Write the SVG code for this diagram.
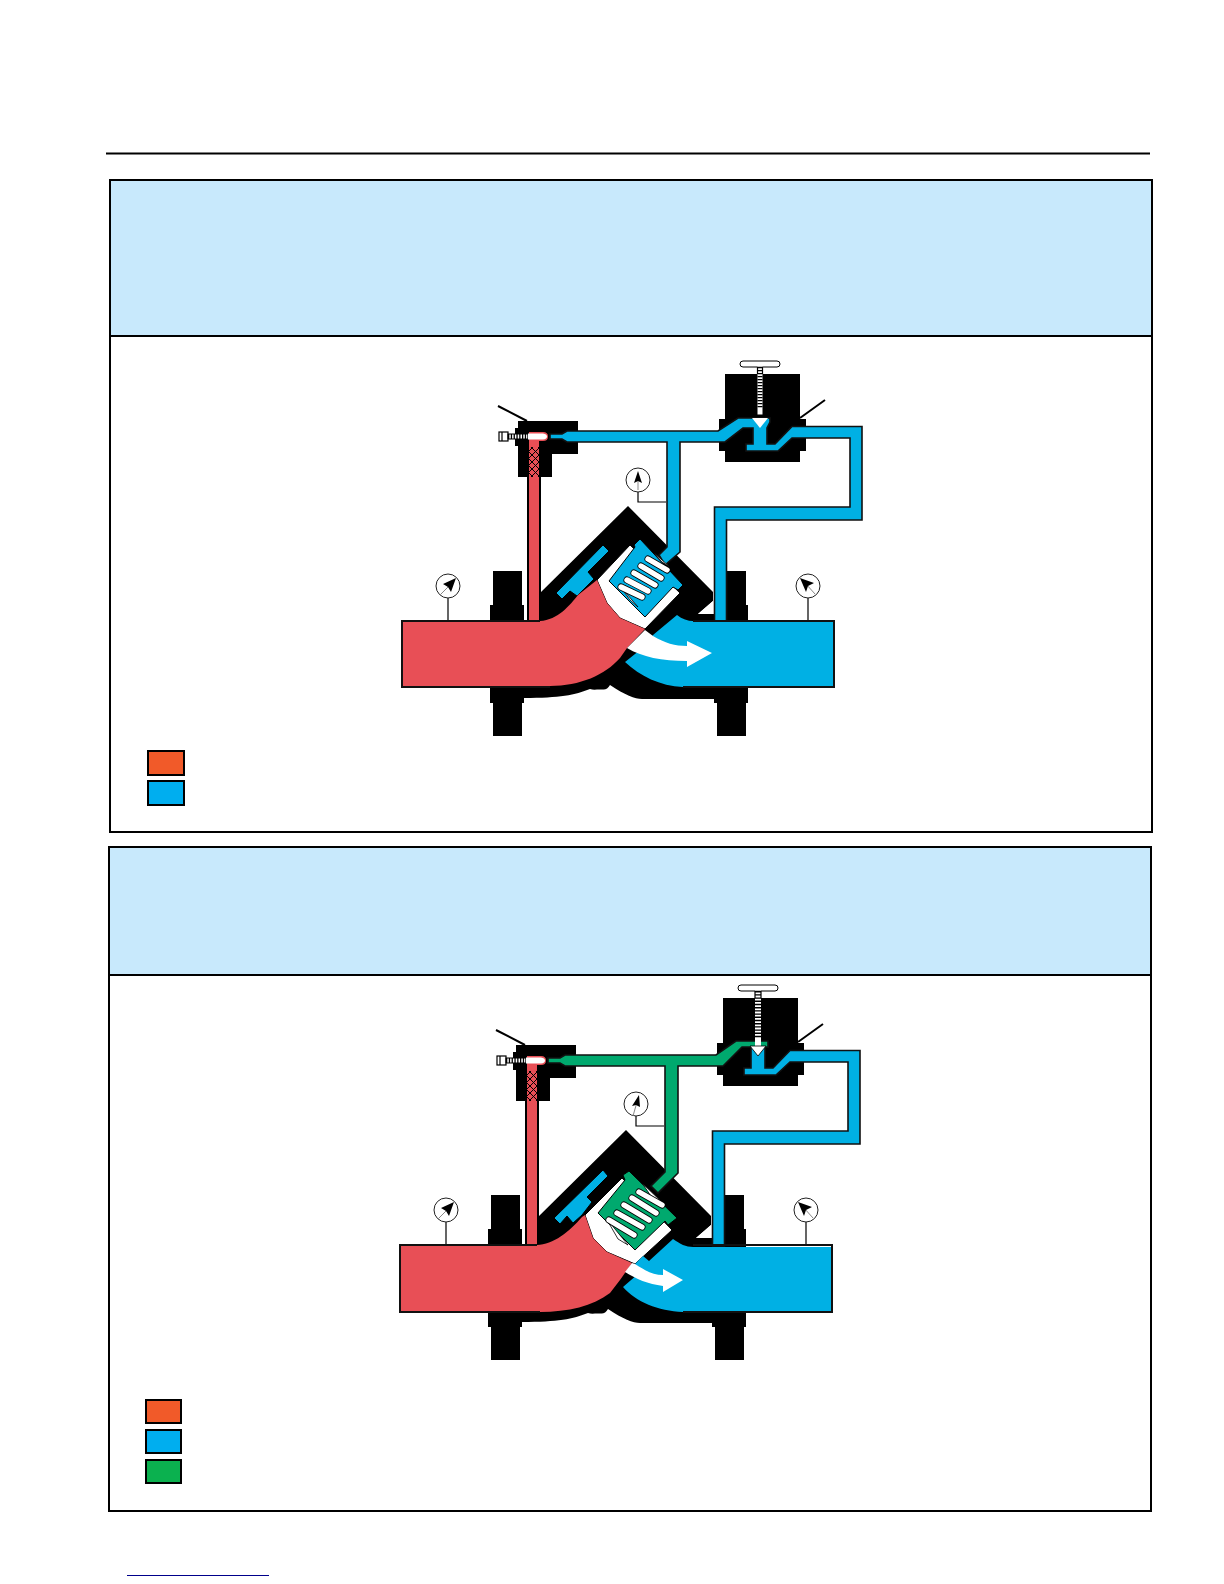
<svg xmlns="http://www.w3.org/2000/svg" width="1224" height="1584" viewBox="0 0 1224 1584">
<style>
.panel{fill:#fff;stroke:#000;stroke-width:2}
.head{fill:#c8e9fc;stroke:#000;stroke-width:2}
.k{fill:#000}
.hair{fill:none;stroke:#000;stroke-width:1.2}
.lead{fill:none;stroke:#000;stroke-width:2}
.dial{fill:#fff;stroke:#222;stroke-width:1}
.needle{fill:none;stroke:#888;stroke-width:1}
.blue{fill:#00b0e4}
.red{fill:#e84f56}
.pipe-b{fill:#00b0e4;stroke:#111;stroke-width:1.6;stroke-linejoin:miter}
.pipe-g{fill:#00a96e;stroke:#111;stroke-width:1.6;stroke-linejoin:miter}
.fill-g{fill:#00a96e;stroke:#000;stroke-width:1}
.fill-b{fill:#00b0e4;stroke:#000;stroke-width:1}
.cav{fill:#fff;stroke:#000;stroke-width:1}
.w{fill:#fff}
.slot-o{fill:none;stroke:#000;stroke-width:7;stroke-linecap:round}
.slot{fill:none;stroke:#fff;stroke-width:5.4;stroke-linecap:round}
.wedge{fill:#fff;stroke:#000;stroke-width:.8}
.body-out{fill:none;stroke:#111;stroke-width:2}
.swatch{stroke:#000;stroke-width:2}
</style>
<defs>
<pattern id="hatch" width="7" height="7" patternUnits="userSpaceOnUse">
<path d="M0,0L7,7M7,0L0,7" stroke="#000" stroke-width="1" fill="none"/>
</pattern>
<g id="base-back">
<path class="k" d="M628,506L713,592V601L698,614H714V621H748V605H746V571H717V605H714V621L714,699H748V703H746V736H717V703H714V699H642C635,699 625,695 610,685Q607,690 603,689.500H597Q593,690 590,689C575,695 560,698 524,698V703H522V736H493V703H490V605H493V571H522V605H524V621H540V593Z"/>
<path class="k" d="M490,605H524V703H490ZM714,605H748V703H714Z"/>
<path class="k" d="M518,421H578V454H552V477H518V446H515V428H518Z"/>
<rect class="k" x="527" y="470" width="14" height="152"/>
<rect class="k" x="725" y="374" width="75" height="88"/>
<rect class="k" x="719" y="419" width="87" height="32"/>
<path class="w" d="M713,601L713,614H698Z"/>
<path class="lead" d="M498,406L527,421M800,418L825,400"/>
<rect class="w" x="740" y="361" width="40" height="6" rx="3" stroke="#000" stroke-width="1"/>
<path class="hair" d="M448,598V621M808,598V621M638,492V502H666"/>
</g>
<g id="red-line">
<path class="red" d="M529,622V432H543Q548,432 548,436.500Q548,441 543,441H539V622Z"/>
<rect x="529" y="447" width="10" height="30" fill="url(#hatch)"/>
</g>
<g id="base-front">
<rect x="499" y="432" width="9" height="9" fill="#fff" stroke="#000" stroke-width="1.200"/>
<path class="hair" d="M502,432V441"/>
<rect x="508" y="434" width="20" height="5" fill="#fff" stroke="#000" stroke-width="1"/>
<path d="M508,436.500H528" stroke="#000" stroke-width="5" stroke-dasharray="1.300 1.500" fill="none"/>
<path class="w" d="M528,433.500H543Q547,434 547,436.500Q547,439 543,439.500H528Z"/>
<circle class="dial" cx="448" cy="586" r="12"/>
<path class="needle" d="M440,595L450,585"/>
<path class="k" d="M456,578L451,592L448,587L443,584Z"/>
<circle class="dial" cx="808" cy="586" r="12"/>
<path class="needle" d="M815,594L806,584"/>
<path class="k" d="M800,578L814,583L808,586L806,592Z"/>
<circle class="dial" cx="638" cy="480" r="12"/>
</g>
</defs>

<rect width="1224" height="1584" fill="#fff"/>
<path d="M106,153.500H1150" stroke="#000" stroke-width="2"/>
<path d="M127,1575.500H269" stroke="#00008b" stroke-width="1"/>

<g id="panel-top">
<rect class="panel" x="110" y="180" width="1042" height="652"/>
<rect class="head" x="110" y="180" width="1042" height="156"/>
<rect class="swatch" x="148" y="751" width="36" height="24" fill="#f15a29"/>
<rect class="swatch" x="148" y="781" width="36" height="24" fill="#00aeef"/>
</g>

<g id="valve-top">
<use href="#base-back"/>
<g id="pilot-line-top">
<path class="pipe-b" d="M550,434L562,434L567,431L718,431L738,418L770,418L770,422L767,428V444H775L792,426.500H862V520H726.500V622H714.500V507H850V438H792L778,451H746V444H753V428H743L725,442H680V552L665,565L659,555L667,547V442H567L562,439H550Z"/>
</g>
<path class="w" d="M757.500,366.500h5v48h-5z"/>
<path d="M760,367V408" stroke="#000" stroke-width="5" stroke-dasharray="1.200 1.800" fill="none"/>
<path class="hair" d="M757.500,367V374M762.500,367V374"/>
<path class="w" d="M752,418H768L760,428Z"/>
<use href="#red-line"/>
<g id="piston-top">
<path class="fill-b" d="M603,545L609,551L588,572L594,579L577,596L570,591L562,599L556,593Z"/>
<path class="cav" d="M597,580L630,545L680,593L645,629L620,618L607,603Z"/>
<path class="fill-b" d="M609,581L635,547L634,545L640,539L683,585L678,590L673,587L645,617Z"/>
<path class="wedge" d="M653,552L670,567L662,562Z"/>
<path class="wedge" d="M620,586L638,607L630,600Z"/>
<path class="slot-o" d="M648,559L667,570M641,566L661,578M634,573L655,585M627,580L648,591M621,587L642,597"/>
<path class="slot" d="M648,559L667,570M641,566L661,578M634,573L655,585M627,580L648,591M621,587L642,597"/>
</g>
<g id="fluid-top">
<path class="red" d="M402,621H540C558,620 570,605 578,595L597,580L607,603L620,618L645,629L627,648L620,658C605,675 580,686 550,686H402Z"/>
<path class="blue" d="M653,635L677,615C682,619 688,621 693,621H834V687H683C660,686 640,676 625,662L640,650Z"/>
<path class="w" d="M645,630L653,636C665,643 675,646 687,646V641L712,653L687,667V661C662,661 642,657 627,648Z"/>
<path class="body-out" d="M540,621H402V687H550M693,621H834V687H683"/>
</g>
<use href="#base-front"/>
<path class="needle" d="M638,490V480"/>
<path class="k" d="M638,471L642,483L638,481L634,483Z"/>
</g>

<g id="panel-bottom">
<rect class="panel" x="109" y="847" width="1042" height="664"/>
<rect class="head" x="109" y="847" width="1042" height="128"/>
<rect class="swatch" x="146" y="1400" width="35" height="23" fill="#f15a29"/>
<rect class="swatch" x="146" y="1430" width="35" height="23" fill="#00aeef"/>
<rect class="swatch" x="146" y="1460" width="35" height="23" fill="#0bb14f"/>
</g>

<g id="valve-bottom" transform="translate(-2,624)">
<use href="#base-back"/>
<g id="pilot-line-bottom">
<path class="pipe-b" d="M753,422H767V444H775L792,426.500H862V520H726.500V622H714.500V507H850V438H792L778,451H746V444H753Z"/>
<path class="pipe-g" d="M550,434L562,434L567,431L718,431L738,417L770,417V423H744L725,442H680V549L660,569L653,562L667,548V442H567L562,439H550Z"/>
</g>
<path class="w" d="M757,366.500h6v60h-6z"/>
<path d="M760,367V415" stroke="#000" stroke-width="6" stroke-dasharray="1.400 1.800" fill="none"/>
<path class="hair" d="M757,367V374M763,367V374"/>
<path class="w" stroke="#000" stroke-width=".8" d="M752,422H768L760,432Z"/>
<use href="#red-line"/>
<g id="piston-bottom">
<path class="fill-b" d="M605,546L610,552L589,573L594,578L584,591L575,599L569,592L562,600L556,594Z"/>
<path class="cav" d="M587,591L624,554L674,606L637,640L609,628L595,614Z"/>
<path class="fill-g" d="M600,589L627,556L625,551L631,547L679,594L670,601L667,597L637,626Z"/>
<path class="wedge" d="M644,559L667,581L657,578Z"/>
<path class="wedge" d="M608,594L630,621L620,615Z"/>
<path class="slot-o" d="M641,568L664,581M634,574L658,589M626,581L651,596M619,589L644,603M611,596L636,611"/>
<path class="slot" d="M641,568L664,581M634,574L658,589M626,581L651,596M619,589L644,603M611,596L636,611"/>
</g>
<g id="fluid-bottom">
<path class="red" d="M402,621H539C555,621 572,607 584,593L587,591L595,614L609,628L634,639L622,656L612,669C595,682 570,688 542,688H402Z"/>
<path class="blue" d="M637,640L645,632L651,637L675,615C682,620 688,623 695,623H834V688H685C660,687 638,678 625,663L640,650Z"/>
<path class="w" d="M634,639L637,640C648,647 655,651 665,651V645L685,656L665,668V662C650,660 638,655 627,648Z"/>
<path class="body-out" d="M539,621H402V688H542M695,621H834V688H685"/>
</g>
<use href="#base-front"/>
<path class="needle" d="M635,492L639,478"/>
<path class="k" d="M641,471L642,483L638,481L634,482Z"/>
</g>
</svg>
